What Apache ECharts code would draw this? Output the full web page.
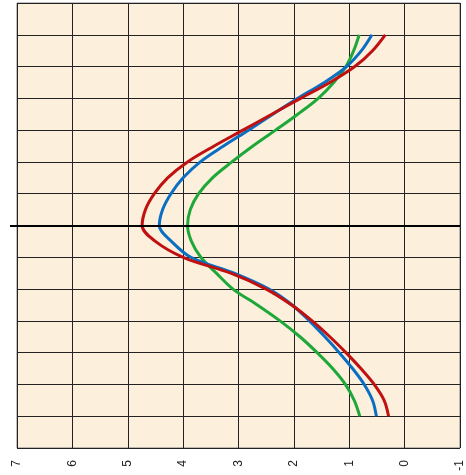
<!DOCTYPE html>
<html>
<head>
<meta charset="utf-8">
<script src="https://cdn.jsdelivr.net/npm/echarts@6/dist/echarts.min.js"></script>
<style>html,body{margin:0;padding:0;background:#fff}#c{width:466px;height:475px}</style>
</head>
<body>
<div id="c"></div>
<script>
// vertical positions (t) and horizontal values for each curve
var tValues = [6, 5.5, 5, 4.5, 4, 3.5, 3, 2.5, 2, 1.5, 1, 0.5, 0, -0.5, -1, -1.5, -2, -2.5, -3, -3.5, -4, -4.5, -5, -5.5, -6];
var redValues = [0.35, 0.58, 0.90, 1.35, 1.88, 2.40, 2.92, 3.44, 3.92, 4.28, 4.52, 4.68, 4.74, 4.50, 4.00, 3.14, 2.50, 2.04, 1.67, 1.35, 1.06, 0.79, 0.55, 0.37, 0.29];
var blueValues = [0.59, 0.78, 1.05, 1.45, 1.93, 2.38, 2.82, 3.27, 3.69, 4.00, 4.22, 4.37, 4.43, 4.21, 3.86, 3.08, 2.45, 2.03, 1.72, 1.44, 1.18, 0.94, 0.73, 0.58, 0.51];
var greenValues = [0.82, 0.92, 1.06, 1.28, 1.56, 1.93, 2.33, 2.74, 3.12, 3.47, 3.72, 3.87, 3.92, 3.85, 3.68, 3.40, 3.10, 2.66, 2.25, 1.89, 1.58, 1.30, 1.07, 0.91, 0.81];
var valueTicks = [-1, 0, 1, 2, 3, 4, 5, 6, 7];

function pairs(vals) {
  return vals.map(function (v, i) { return [v, tValues[i]]; });
}

var chart = echarts.init(document.getElementById('c'), null, {renderer: 'canvas'});
var lineW = 3;
chart.setOption({
  animation: false,
  grid: {
    left: 17, right: 4, top: 3, bottom: 27,
    show: true, backgroundColor: '#FCEFDC', borderColor: '#808080', borderWidth: 1
  },
  xAxis: {
    type: 'value', min: valueTicks[0], max: valueTicks[valueTicks.length - 1], interval: 1, inverse: true,
    axisLine: {show: false}, axisTick: {show: false},
    splitLine: {show: true, lineStyle: {color: '#222', width: 1}},
    axisLabel: {rotate: 90, fontSize: 12, color: '#222', margin: 12, fontFamily: 'Liberation Sans, Arial, sans-serif'}
  },
  yAxis: [
    {
      type: 'value', min: -7, max: 7, interval: 1,
      axisLine: {show: false}, axisTick: {show: false}, axisLabel: {show: false},
      splitLine: {show: true, lineStyle: {color: '#222', width: 1}}
    },
    {
      type: 'value', min: -7, max: 7, interval: 1, position: 'left',
      axisLine: {show: false},
      axisTick: {show: true, customValues: [0], length: 7, lineStyle: {color: '#000', width: 2}},
      axisLabel: {show: false},
      splitLine: {show: false}
    }
  ],
  series: [
    {
      type: 'line', data: pairs(greenValues), smooth: 0.35, showSymbol: false,
      lineStyle: {color: '#1FA83A', width: lineW}, itemStyle: {color: '#1FA83A'},
      markLine: {
        silent: true, symbol: 'none', label: {show: false},
        lineStyle: {color: '#000', width: 2, type: 'solid'},
        data: [{yAxis: 0}]
      }
    },
    {
      type: 'line', data: pairs(blueValues), smooth: 0.35, showSymbol: false,
      lineStyle: {color: '#0A6FC2', width: lineW}, itemStyle: {color: '#0A6FC2'}
    },
    {
      type: 'line', data: pairs(redValues), smooth: 0.35, showSymbol: false,
      lineStyle: {color: '#C01010', width: lineW}, itemStyle: {color: '#C01010'}
    }
  ]
});
</script>
</body>
</html>
